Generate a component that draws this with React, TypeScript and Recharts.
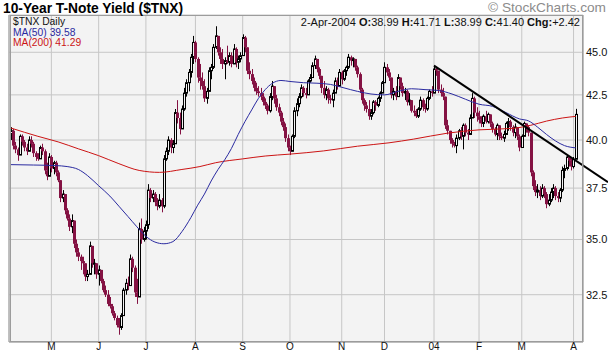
import React from "react";
import { Bar, CartesianGrid, ComposedChart, Line, ReferenceLine, XAxis, YAxis } from "recharts";

const W = 608;
const H = 354;
const FONT = "'Liberation Sans', Arial, sans-serif";
const BG = "#f3f3f3";
const GRID = "#c6c6c6";
const FRAME = "#9c9c9c";
const CANDLE_DOWN = "#841243";
const MA50_COLOR = "#2a2aa0";
const MA200_COLOR = "#cc1414";

// month starts, as bar index (trading days since early April 2003)
const MONTH_IDX = [18, 39, 60, 82, 103, 124, 147, 166, 188, 208, 227, 250];
const MONTH_LABELS = ["M", "J", "J", "A", "S", "O", "N", "D", "04", "F", "M", "A"];
const Y_TICKS = [32.5, 35, 37.5, 40, 42.5, 45];
const MINOR_TICKS = [
  31, 31.5, 32, 32.5, 33, 33.5, 34, 34.5, 35, 35.5, 36, 36.5, 37, 37.5, 38, 38.5, 39,
  39.5, 40, 40.5, 41, 41.5, 42, 42.5, 43, 43.5, 44, 44.5, 45, 45.5, 46, 46.5, 47,
];

const FIRST_OPEN = 40.3;

const HIGH = [
  40.7, 40.6, 39.9, 39.6, 40.3, 40.3, 40.0, 39.8, 40.2, 40.2,
  39.9, 39.4, 39.3, 39.7, 39.8, 39.5, 38.8, 39.3, 39.2, 38.9,
  38.9, 38.4, 37.9, 37.4, 37.2, 36.5, 36.2, 36.2, 35.9, 35.0,
  34.6, 34.3, 34.2, 33.9, 33.6, 34.9, 34.7, 34.1, 33.9, 33.8,
  33.6, 33.2, 32.9, 32.7, 32.4, 32.1, 31.8, 31.6, 31.5, 31.7,
  32.8, 33.2, 33.3, 34.3, 34.2, 33.8, 33.2, 35.8, 36.0, 35.6,
  35.9, 37.7, 37.5, 37.4, 37.3, 37.0, 37.2, 37.0, 39.2, 39.6,
  40.2, 40.1, 40.0, 41.7, 42.2, 41.5, 41.9, 42.9, 43.4, 44.0,
  44.9, 46.0, 45.7, 44.7, 44.3, 43.8, 43.4, 42.9, 44.1, 44.3,
  45.5, 46.6, 46.0, 45.3, 45.2, 44.7, 45.4, 45.0, 45.0, 45.5,
  45.3, 44.8, 45.0, 46.1, 46.0, 45.3, 44.4, 44.0, 43.5, 43.2,
  43.0, 42.9, 42.6, 42.3, 42.0, 42.6, 43.3, 43.0, 42.5, 42.0,
  41.6, 41.2, 40.9, 40.3, 39.7, 40.3, 41.8, 42.3, 42.6, 43.1,
  43.0, 42.9, 43.4, 43.7, 44.4, 44.8, 44.6, 44.1, 43.6, 43.3,
  43.0, 42.9, 42.5, 42.8, 43.5, 43.5, 44.0, 43.9, 44.0, 44.2,
  44.9, 44.8, 44.7, 44.6, 44.2, 43.8, 42.9, 42.3, 42.1, 42.2,
  41.7, 42.2, 42.2, 42.4, 42.7, 43.3, 44.4, 44.3, 44.0, 43.5,
  42.9, 43.0, 43.7, 43.5, 43.2, 42.9, 42.8, 42.6, 42.2, 41.9,
  41.7, 41.8, 42.4, 42.3, 42.0, 42.4, 42.8, 43.0, 44.2, 44.1,
  43.9, 43.1, 42.9, 42.4, 41.1, 40.5, 40.1, 39.9, 40.3, 40.6,
  40.7, 40.9, 40.9, 40.6, 41.4, 42.6, 42.4, 41.8, 41.6, 41.3,
  41.4, 41.6, 41.5, 41.4, 41.0, 40.7, 40.9, 40.8, 40.4, 40.5,
  41.0, 41.2, 41.1, 40.8, 40.9, 40.7, 40.3, 40.3, 41.0, 40.9,
  40.8, 40.4, 38.4, 37.9, 37.7, 37.6, 37.7, 37.6, 37.3, 37.2,
  37.5, 37.7, 37.6, 37.3, 37.5, 38.6, 38.7, 39.2, 39.1, 39.0,
  39.1, 41.71,
];

const LOW = [
  40.0, 39.5, 39.3, 38.9, 39.2, 39.7, 39.4, 39.2, 39.4, 39.6,
  39.1, 38.9, 38.9, 39.0, 39.2, 38.2, 37.9, 38.1, 38.3, 38.2,
  38.1, 37.8, 36.8, 36.8, 36.2, 35.9, 35.4, 35.3, 34.6, 34.2,
  34.0, 33.6, 33.4, 33.1, 33.1, 33.4, 33.7, 33.4, 33.2, 32.9,
  33.0, 32.6, 32.4, 32.0, 31.9, 31.6, 31.4, 31.1, 30.8, 31.0,
  31.6, 32.5, 32.7, 32.9, 33.5, 32.4, 32.1, 32.4, 34.8, 34.9,
  35.0, 35.5, 36.8, 36.8, 36.6, 36.4, 36.5, 36.3, 36.5, 38.9,
  39.2, 39.3, 39.3, 39.8, 40.9, 40.3, 40.6, 41.6, 42.4, 42.7,
  43.5, 44.3, 44.4, 43.2, 42.8, 42.8, 42.1, 42.0, 42.7, 43.4,
  44.0, 45.2, 44.8, 44.3, 44.0, 43.4, 44.3, 44.2, 44.1, 44.3,
  44.1, 44.0, 44.4, 44.8, 45.0, 43.7, 43.4, 43.1, 42.7, 42.5,
  42.4, 42.2, 41.9, 41.7, 41.4, 41.5, 42.2, 42.0, 41.6, 41.3,
  40.8, 40.5, 39.9, 39.4, 39.2, 39.4, 40.1, 41.3, 41.8, 42.3,
  42.4, 42.3, 42.5, 43.2, 43.5, 44.0, 43.8, 43.4, 42.6, 42.3,
  42.2, 42.0, 42.0, 41.8, 42.6, 42.8, 43.0, 43.1, 43.3, 43.6,
  44.0, 44.2, 44.1, 43.9, 43.5, 42.6, 42.0, 41.6, 41.5, 41.1,
  41.1, 41.4, 41.6, 41.8, 42.1, 42.6, 43.2, 43.6, 43.3, 42.3,
  42.2, 42.2, 42.4, 42.8, 42.4, 42.2, 41.9, 41.9, 41.5, 41.3,
  41.2, 41.2, 41.6, 41.6, 41.5, 41.6, 42.2, 42.4, 42.6, 43.6,
  42.6, 42.4, 42.2, 40.6, 40.3, 39.8, 39.6, 39.6, 39.3, 40.0,
  40.0, 39.5, 40.2, 40.0, 40.3, 41.2, 41.2, 41.0, 40.9, 40.7,
  40.7, 40.9, 40.9, 40.7, 40.4, 40.2, 40.0, 40.0, 40.0, 39.9,
  40.3, 40.5, 40.5, 40.2, 40.1, 40.0, 39.4, 39.6, 40.2, 40.4,
  40.2, 38.1, 37.4, 37.1, 37.0, 36.9, 37.0, 37.0, 36.5, 36.6,
  36.8, 37.0, 36.9, 36.8, 36.8, 37.3, 38.0, 38.4, 38.6, 38.4,
  38.5, 38.99,
];

const CLOSE = [
  40.5, 39.7, 39.5, 39.2, 40.2, 39.9, 39.6, 39.4, 40.0, 39.8,
  39.3, 39.1, 39.0, 39.6, 39.4, 38.4, 38.1, 39.1, 38.5, 38.8,
  38.3, 37.9, 37.0, 37.2, 36.4, 36.0, 35.6, 35.9, 34.8, 34.4,
  34.2, 34.0, 33.9, 33.3, 33.4, 34.7, 33.9, 33.9, 33.4, 33.6,
  33.1, 32.7, 32.5, 32.1, 32.0, 31.7, 31.5, 31.2, 31.1, 31.6,
  32.7, 33.0, 32.9, 34.1, 33.7, 32.6, 32.4, 35.5, 35.0, 35.4,
  35.7, 37.4, 37.0, 37.2, 36.8, 36.6, 36.9, 36.6, 39.0, 39.4,
  40.0, 39.6, 39.8, 41.5, 41.2, 40.6, 41.7, 42.6, 43.2, 43.8,
  44.7, 45.6, 44.6, 43.5, 43.3, 43.0, 42.3, 42.7, 43.9, 44.1,
  45.3, 46.0, 45.0, 44.6, 44.3, 44.5, 44.4, 44.8, 44.3, 45.2,
  44.4, 44.6, 44.8, 45.9, 45.3, 43.9, 43.7, 43.3, 42.9, 42.7,
  42.6, 42.4, 42.1, 41.9, 41.6, 42.4, 43.0, 42.3, 41.8, 41.5,
  41.0, 40.7, 40.1, 39.6, 39.4, 40.2, 41.6, 42.0, 42.4, 42.9,
  42.6, 42.5, 43.3, 43.5, 44.2, 44.6, 44.0, 43.6, 42.9, 42.5,
  42.8, 42.3, 42.2, 42.6, 43.3, 43.0, 43.8, 43.4, 43.9, 44.1,
  44.7, 44.5, 44.6, 44.1, 43.7, 42.8, 42.2, 41.9, 41.7, 41.3,
  41.5, 42.1, 41.9, 42.3, 42.6, 43.2, 44.1, 43.8, 43.5, 42.5,
  42.7, 42.4, 43.5, 43.0, 42.6, 42.7, 42.1, 42.2, 41.6, 41.5,
  41.3, 41.7, 42.2, 41.8, 41.7, 42.3, 42.7, 42.6, 44.0, 43.9,
  42.8, 42.6, 42.4, 40.8, 40.5, 40.0, 39.8, 39.7, 40.1, 40.5,
  40.2, 40.8, 40.4, 40.3, 41.2, 42.3, 41.5, 41.3, 41.1, 40.9,
  41.3, 41.0, 41.4, 40.9, 40.6, 40.3, 40.8, 40.2, 40.1, 40.3,
  40.9, 41.0, 40.7, 40.4, 40.7, 40.2, 39.6, 40.2, 40.9, 40.7,
  40.4, 38.3, 37.6, 37.3, 37.4, 37.1, 37.5, 37.2, 36.7, 36.9,
  37.3, 37.5, 37.1, 37.0, 37.4, 38.4, 38.5, 39.1, 38.9, 38.6,
  38.98, 41.4,
];

// moving averages at these bars
const MA50_IDX = [
  0, 10, 20, 25, 30, 34, 39, 44, 48, 52, 56, 60, 64, 68, 72, 76, 80, 83, 86, 89, 92, 95,
  98, 101, 104, 107, 110, 113, 116, 120, 124, 130, 136, 142, 148, 154, 160, 166, 172,
  178, 184, 190, 196, 202, 208, 214, 220, 226, 230, 234, 238, 242, 246, 251,
];
const MA50_VAL = [
  38.7, 38.68, 38.65, 38.6, 38.45, 38.14, 37.62, 37.1, 36.6, 36.1, 35.6, 35.15, 34.88,
  34.8, 34.9, 35.37, 36.05, 36.65, 37.2, 37.86, 38.44, 38.95, 39.55, 40.3, 41.0, 41.65,
  42.3, 42.8, 43.15, 43.33, 43.27, 43.2, 43.17, 43.1, 42.9, 42.7, 42.55, 42.5, 42.7,
  42.85, 42.8, 42.75, 42.55, 42.25, 41.97, 41.85, 41.5, 41.15, 41.04, 40.7, 40.3, 39.95,
  39.7, 39.58,
];
const MA200_IDX = [
  0, 12, 21, 30, 39, 48, 57, 66, 76, 84, 91, 103, 113, 124, 139, 154, 168, 179, 194, 208,
  223, 231, 238, 245, 251,
];
const MA200_VAL = [
  40.65, 40.2, 39.9, 39.53, 39.17, 38.75, 38.4, 38.3, 38.45, 38.6, 38.8, 39.0, 39.15,
  39.25, 39.42, 39.67, 39.85, 40.05, 40.37, 40.55, 40.63, 40.8, 41.03, 41.2, 41.29,
];

// hand-drawn trendline from the January high
const TREND_IDX = [188, 265.3];
const TREND_VAL = [44.2, 37.8];

type Row = {
  i: number;
  range: [number, number];
  hi: number;
  lo: number;
  op: number;
  cl: number;
  ma50?: number;
  ma200?: number;
};

const rows: Row[] = CLOSE.map((cl, i) => ({
  i,
  range: [LOW[i], HIGH[i]],
  hi: HIGH[i],
  lo: LOW[i],
  op: i === 0 ? FIRST_OPEN : CLOSE[i - 1],
  cl,
}));
MA50_IDX.forEach((idx, k) => (rows[idx].ma50 = MA50_VAL[k]));
MA200_IDX.forEach((idx, k) => (rows[idx].ma200 = MA200_VAL[k]));

function Candle(props: any) {
  const { x, y, width, height, payload } = props;
  if (!payload || !Number.isFinite(y) || !Number.isFinite(height)) return null;
  const top = Math.min(y, y + height);
  const bot = Math.max(y, y + height);
  const { hi, lo, op, cl } = payload as Row;
  const span = Math.log(hi) - Math.log(lo) || 1;
  // log axis: place open/close inside the high-low pixel span
  const toY = (v: number) => top + ((bot - top) * (Math.log(hi) - Math.log(v))) / span;
  const c = Math.round(x + width / 2) + 0.5;
  const up = cl >= op;
  const color = up ? "#000" : CANDLE_DOWN;
  const yo = toY(op);
  const yc = toY(cl);
  const bTop = Math.min(yo, yc);
  const bH = Math.max(Math.abs(yo - yc), 1);
  return (
    <g>
      <line x1={c} x2={c} y1={top} y2={bot} stroke={color} strokeWidth={1} />
      {up ? (
        <rect x={c - 1} y={bTop} width={2} height={bH} fill={BG} stroke={color} strokeWidth={1} />
      ) : (
        <rect x={c - 1.5} y={bTop} width={3} height={bH} fill={color} />
      )}
    </g>
  );
}

export default function App() {
  const last50 = MA50_VAL[MA50_VAL.length - 1].toFixed(2);
  const last200 = MA200_VAL[MA200_VAL.length - 1].toFixed(2);
  return (
    <div style={{ position: "absolute", left: 0, top: 0, width: W, height: H, background: "#fff" }}>
      <ComposedChart
        width={W}
        height={H}
        data={rows}
        margin={{ top: 15, right: 0, bottom: 0, left: 9 }}
        style={{ fontFamily: FONT }}
      >
        <CartesianGrid yAxisId="p" stroke={GRID} fill={BG} />
        <XAxis
          dataKey="i"
          type="number"
          domain={[-0.83, 254.2]}
          allowDataOverflow
          ticks={MONTH_IDX}
          interval={0}
          tickFormatter={(v: number) => MONTH_LABELS[MONTH_IDX.indexOf(v)] ?? ""}
          height={12}
          tickLine={false}
          tickSize={0}
          tickMargin={1}
          axisLine={{ stroke: FRAME }}
          tick={{ fontSize: 10, fill: "#111" }}
        />
        <YAxis
          yAxisId="p"
          orientation="right"
          scale="log"
          domain={[30.5, 47.31]}
          allowDataOverflow
          ticks={Y_TICKS}
          interval={0}
          tickFormatter={(v: number) => v.toFixed(1)}
          width={25}
          tickLine={false}
          tickSize={0}
          tickMargin={3}
          axisLine={{ stroke: FRAME }}
          tick={{ fontSize: 11, fill: "#111" }}
        />
        <YAxis
          yAxisId="m"
          orientation="left"
          scale="log"
          domain={[30.5, 47.31]}
          allowDataOverflow
          ticks={MINOR_TICKS}
          interval={0}
          mirror
          width={1}
          tickSize={3}
          tick={false}
          tickLine={{ stroke: "#a8a8a8" }}
          axisLine={{ stroke: FRAME }}
        />
        <Bar yAxisId="p" dataKey="range" barSize={3} shape={<Candle />} isAnimationActive={false} />
        <Line
          yAxisId="p"
          dataKey="ma200"
          type="monotone"
          stroke={MA200_COLOR}
          strokeWidth={1}
          dot={false}
          connectNulls
          isAnimationActive={false}
        />
        <Line
          yAxisId="p"
          dataKey="ma50"
          type="monotone"
          stroke={MA50_COLOR}
          strokeWidth={1}
          dot={false}
          connectNulls
          isAnimationActive={false}
        />
        <ReferenceLine
          yAxisId="p"
          segment={[
            { x: TREND_IDX[0], y: TREND_VAL[0] },
            { x: TREND_IDX[1], y: TREND_VAL[1] },
          ]}
          stroke="#000"
          strokeWidth={2}
          ifOverflow="visible"
        />
      </ComposedChart>
      <svg
        width={W}
        height={H}
        style={{ position: "absolute", left: 0, top: 0, pointerEvents: "none" }}
        fontFamily={FONT}
      >
        <rect x={10.5} y={15.5} width={572} height={326} fill="none" stroke={FRAME} />
        <text x={3} y={13} fontSize={14} fontWeight="bold" textLength={180} lengthAdjust="spacingAndGlyphs">
          10-Year T-Note Yield ($TNX)
        </text>
        <text x={606} y={12} fontSize={13} fill="#8c8c8c" textAnchor="end" textLength={118} lengthAdjust="spacingAndGlyphs">
          © StockCharts.com
        </text>
        <text x={13} y={25} fontSize={10.3} fill="#111">
          $TNX Daily
        </text>
        <text x={13} y={35.5} fontSize={10.3} fill={MA50_COLOR}>
          MA(50) {last50}
        </text>
        <text x={13} y={46} fontSize={10.3} fill={MA200_COLOR}>
          MA(200) {last200}
        </text>
        <text x={580} y={25.5} fontSize={11} fill="#111" textAnchor="end">
          2-Apr-2004 <tspan fontWeight="bold">O:</tspan>38.99 <tspan fontWeight="bold">H:</tspan>41.71{" "}
          <tspan fontWeight="bold">L:</tspan>38.99 <tspan fontWeight="bold">C:</tspan>41.40{" "}
          <tspan fontWeight="bold">Chg:</tspan>+2.42
        </text>
      </svg>
    </div>
  );
}
